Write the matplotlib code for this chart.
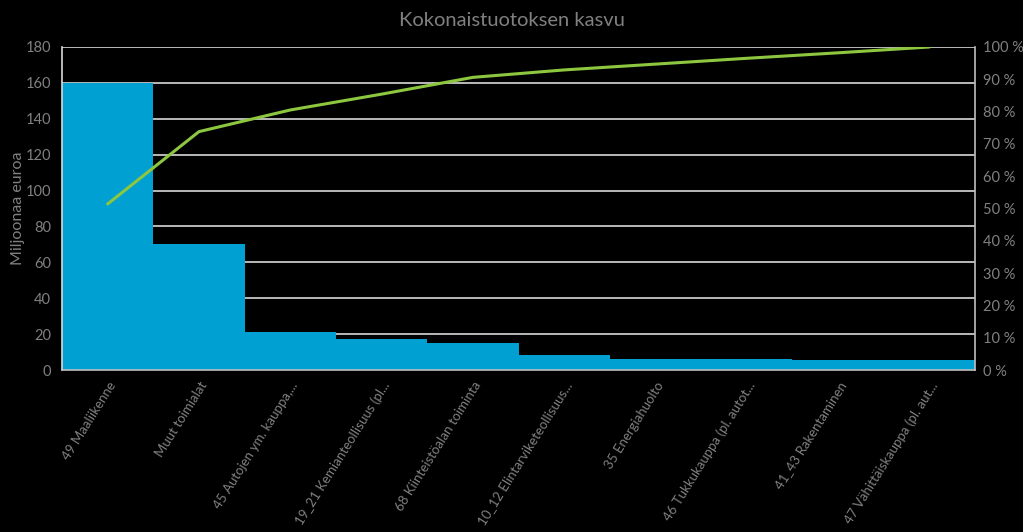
import matplotlib
matplotlib.use("Agg")
import matplotlib.pyplot as plt
from matplotlib.ticker import FuncFormatter, MultipleLocator

plt.rcParams['font.family'] = ['Lato', 'DejaVu Sans']

# data
categories = ['49 Maaliikenne', 'Muut toimialat', '45 Autojen ym. kauppa,...',
              '19_21 Kemianteollisuus (pl...', '68 Kiinteistöalan toiminta',
              '10_12 Elintarviketeollisuus...', '35 Energiahuolto',
              '46 Tukkukauppa (pl. autot...', '41_43 Rakentaminen',
              '47 Vähittäiskauppa (pl. aut...']
growth = [160, 70, 21.3, 17.1, 15.2, 8.5, 6.2, 6.0, 5.8, 5.4]
cumulative_pct = [51.4, 73.8, 80.5, 85.4, 90.6, 92.9, 94.7, 96.5, 98.2, 100]

bg = 'black'
grey_txt = '#808080'
grid_col = '#d9d9d9'
bar_col = '#00A0D2'
line_col = '#8DC63F'

fig = plt.figure(figsize=(10.23, 5.32), dpi=100, facecolor=bg)
ax = fig.add_axes([62 / 1023, 1 - 370 / 532, (975 - 62) / 1023, (370 - 47) / 532])
ax.set_facecolor(bg)

x = list(range(len(categories)))
ax.bar(x, growth, width=1.0, color=bar_col, zorder=2)
ax.set_xlim(-0.5, len(categories) - 0.5)
ax.set_ylim(0, 180)
ax.yaxis.set_major_locator(MultipleLocator(20))
ax.grid(axis='y', color=grid_col, linewidth=1.2, zorder=0)
ax.set_axisbelow(True)

for side in ['top', 'right']:
    ax.spines[side].set_visible(False)
ax.spines['left'].set_color(grid_col)
ax.spines['left'].set_linewidth(1.2)
ax.spines['bottom'].set_color('#c0c0c0')
ax.spines['bottom'].set_linewidth(1.2)
ax.spines['bottom'].set_zorder(3)

ax.set_xticks(x)
ax.set_xticklabels(categories, rotation=58, ha='right', va='top',
                   rotation_mode='anchor', fontsize=9.5, color=grey_txt)
ax.tick_params(axis='x', length=0, pad=7)
ax.tick_params(axis='y', length=0, labelsize=10.5, labelcolor=grey_txt, pad=8)
ax.set_ylabel('Miljoonaa euroa', color=grey_txt, fontsize=11.5)
ax.yaxis.set_label_coords(-37 / 913, 0.5)

ax2 = ax.twinx()
ax2.plot(x, [p / 100 for p in cumulative_pct], color=line_col, linewidth=2.2,
         solid_capstyle='round', zorder=4)
ax2.set_ylim(0, 1)
ax2.yaxis.set_major_locator(MultipleLocator(0.1))
ax2.yaxis.set_major_formatter(FuncFormatter(lambda v, pos: '{:.0f} %'.format(v * 100)))
ax2.tick_params(axis='y', length=0, labelsize=10.5, labelcolor=grey_txt, pad=6)
for side in ['top', 'left', 'bottom']:
    ax2.spines[side].set_visible(False)
ax2.spines['right'].set_color('#bfbfbf')
ax2.spines['right'].set_linewidth(1.2)

fig.text((394 + 629) / 2 / 1023, 1 - 21 / 532, 'Kokonaistuotoksen kasvu',
         ha='center', va='center', fontsize=14.5, color=grey_txt)

fig.savefig('out.png', dpi=100, facecolor=bg)
